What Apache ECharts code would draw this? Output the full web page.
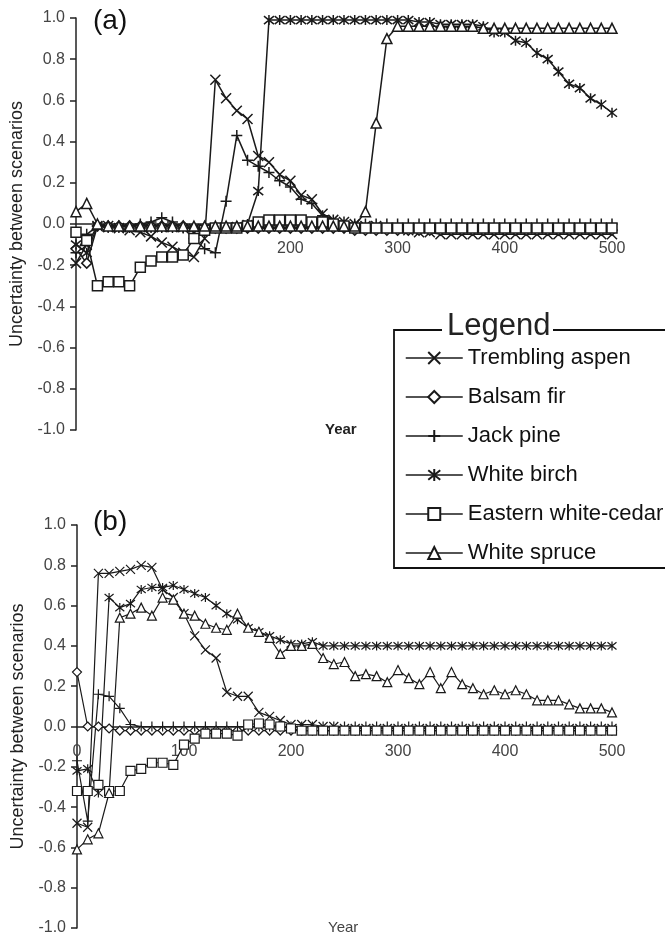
<!DOCTYPE html>
<html>
<head>
<meta charset="utf-8">
<script src="https://cdn.jsdelivr.net/npm/echarts@6/dist/echarts.min.js"></script>
<style>
  html, body { margin: 0; padding: 0; background: #fff; }
  #chart { width: 665px; height: 940px; }
</style>
</head>
<body>
<div id="chart"></div>
<script>
// years simulated (one point every 10 years)
const years = [0, 10, 20, 30, 40, 50, 60, 70, 80, 90,
  100, 110, 120, 130, 140, 150, 160, 170, 180, 190,
  200, 210, 220, 230, 240, 250, 260, 270, 280, 290,
  300, 310, 320, 330, 340, 350, 360, 370, 380, 390,
  400, 410, 420, 430, 440, 450, 460, 470, 480, 490, 500];

const xTicks = [0, 100, 200, 300, 400, 500];
const xTickLabelsA = ['', '', '200', '300', '400', '500'];
const xTickLabelsB = ['0', '100', '200', '300', '400', '500'];

// panel (a)
const aspenA = [-0.19, -0.10, -0.01, -0.01, -0.02, -0.03, -0.04, -0.06, -0.09, -0.11,
  -0.14, -0.16, -0.07, 0.70, 0.61, 0.55, 0.51, 0.33, 0.30, 0.24,
  0.21, 0.14, 0.12, 0.05, 0.02, 0.01, 0.00, -0.01, -0.01, -0.02,
  -0.02, -0.03, -0.04, -0.04, -0.05, -0.05, -0.05, -0.05, -0.05, -0.05,
  -0.05, -0.05, -0.05, -0.05, -0.05, -0.05, -0.05, -0.05, -0.05, -0.05, -0.05];
const firA = [-0.12, -0.19, -0.01, -0.01, -0.01, -0.01, -0.01, -0.01, -0.01, -0.01,
  -0.01, -0.02, -0.03, -0.02, -0.02, -0.02, -0.02, -0.02, -0.02, -0.02,
  -0.02, -0.02, -0.02, -0.02, -0.02, -0.02, -0.03, -0.03, -0.03, -0.03,
  -0.03, -0.03, -0.03, -0.03, -0.03, -0.03, -0.03, -0.03, -0.03, -0.03,
  -0.03, -0.03, -0.03, -0.03, -0.03, -0.03, -0.03, -0.03, -0.03, -0.03, -0.03];
const pineA = [-0.14, -0.05, -0.01, -0.01, -0.01, -0.01, 0.00, 0.01, 0.03, 0.01,
  -0.02, -0.07, -0.12, -0.14, 0.11, 0.43, 0.31, 0.28, 0.25, 0.21,
  0.18, 0.12, 0.10, 0.04, 0.02, 0.01, 0.00, 0.00, 0.00, 0.00,
  0.00, 0.00, 0.00, 0.00, 0.00, 0.00, 0.00, 0.00, 0.00, 0.00,
  0.00, 0.00, 0.00, 0.00, 0.00, 0.00, 0.00, 0.00, 0.00, 0.00, 0.00];
const birchA = [-0.10, -0.14, -0.01, -0.02, -0.02, -0.02, -0.02, -0.02, -0.02, -0.02,
  -0.02, -0.02, -0.02, -0.02, -0.02, -0.01, 0.00, 0.16, 0.99, 0.99,
  0.99, 0.99, 0.99, 0.99, 0.99, 0.99, 0.99, 0.99, 0.99, 0.99,
  0.99, 0.99, 0.98, 0.98, 0.97, 0.97, 0.97, 0.97, 0.96, 0.93,
  0.93, 0.89, 0.88, 0.83, 0.80, 0.74, 0.68, 0.66, 0.61, 0.58, 0.54];
const cedarA = [-0.04, -0.08, -0.30, -0.28, -0.28, -0.30, -0.21, -0.18, -0.16, -0.16,
  -0.15, -0.07, -0.03, -0.02, -0.02, -0.02, -0.01, 0.01, 0.02, 0.02,
  0.02, 0.02, 0.01, 0.01, 0.00, -0.01, -0.02, -0.02, -0.02, -0.02,
  -0.02, -0.02, -0.02, -0.02, -0.02, -0.02, -0.02, -0.02, -0.02, -0.02,
  -0.02, -0.02, -0.02, -0.02, -0.02, -0.02, -0.02, -0.02, -0.02, -0.02, -0.02];
const spruceA = [0.06, 0.10, 0.00, -0.01, -0.01, -0.01, -0.01, -0.01, -0.01, -0.01,
  -0.01, -0.01, -0.01, -0.01, -0.01, -0.01, -0.01, -0.01, -0.01, -0.01,
  -0.01, -0.01, -0.01, -0.01, -0.01, -0.01, -0.01, 0.06, 0.49, 0.90,
  0.96, 0.96, 0.96, 0.96, 0.96, 0.96, 0.96, 0.96, 0.95, 0.95,
  0.95, 0.95, 0.95, 0.95, 0.95, 0.95, 0.95, 0.95, 0.95, 0.95, 0.95];

// panel (b)
const aspenB = [-0.48, -0.50, 0.76, 0.76, 0.77, 0.78, 0.80, 0.79, 0.68, 0.64,
  0.56, 0.45, 0.38, 0.34, 0.17, 0.15, 0.15, 0.07, 0.05, 0.03,
  0.01, 0.01, 0.01, 0.00, 0.00, -0.01, -0.01, -0.01, -0.01, -0.01,
  -0.01, -0.01, -0.01, -0.01, -0.01, -0.01, -0.01, -0.01, -0.01, -0.01,
  -0.01, -0.01, -0.01, -0.01, -0.01, -0.01, -0.01, -0.01, -0.01, -0.01, -0.01];
const firB = [0.27, 0.00, 0.00, -0.01, -0.02, -0.02, -0.02, -0.02, -0.02, -0.02,
  -0.02, -0.02, -0.02, -0.02, -0.02, -0.02, -0.02, -0.02, -0.02, -0.02,
  -0.02, -0.02, -0.02, -0.02, -0.02, -0.02, -0.02, -0.02, -0.02, -0.02,
  -0.02, -0.02, -0.02, -0.02, -0.02, -0.02, -0.02, -0.02, -0.02, -0.02,
  -0.02, -0.02, -0.02, -0.02, -0.02, -0.02, -0.02, -0.02, -0.02, -0.02, -0.02];
const pineB = [-0.17, -0.47, 0.16, 0.15, 0.09, 0.01, 0.00, 0.00, 0.00, 0.00,
  0.00, 0.00, 0.00, 0.00, 0.00, 0.00, 0.00, 0.00, 0.00, 0.00,
  0.00, 0.00, 0.00, 0.00, 0.00, 0.00, 0.00, 0.00, 0.00, 0.00,
  0.00, 0.00, 0.00, 0.00, 0.00, 0.00, 0.00, 0.00, 0.00, 0.00,
  0.00, 0.00, 0.00, 0.00, 0.00, 0.00, 0.00, 0.00, 0.00, 0.00, 0.00];
const birchB = [-0.22, -0.21, -0.33, 0.64, 0.59, 0.61, 0.68, 0.69, 0.69, 0.70,
  0.68, 0.66, 0.64, 0.60, 0.56, 0.53, 0.49, 0.47, 0.45, 0.43,
  0.41, 0.41, 0.42, 0.40, 0.40, 0.40, 0.40, 0.40, 0.40, 0.40,
  0.40, 0.40, 0.40, 0.40, 0.40, 0.40, 0.40, 0.40, 0.40, 0.40,
  0.40, 0.40, 0.40, 0.40, 0.40, 0.40, 0.40, 0.40, 0.40, 0.40, 0.40];
const cedarB = [-0.32, -0.32, -0.29, -0.32, -0.32, -0.22, -0.21, -0.18, -0.18, -0.19,
  -0.09, -0.06, -0.035, -0.035, -0.035, -0.045, 0.01, 0.015, 0.01, 0.00,
  -0.01, -0.02, -0.02, -0.02, -0.02, -0.02, -0.02, -0.02, -0.02, -0.02,
  -0.02, -0.02, -0.02, -0.02, -0.02, -0.02, -0.02, -0.02, -0.02, -0.02,
  -0.02, -0.02, -0.02, -0.02, -0.02, -0.02, -0.02, -0.02, -0.02, -0.02, -0.02];
const spruceB = [-0.61, -0.56, -0.53, -0.33, 0.54, 0.56, 0.59, 0.55, 0.64, 0.63,
  0.56, 0.55, 0.51, 0.49, 0.48, 0.56, 0.49, 0.47, 0.44, 0.36,
  0.40, 0.40, 0.41, 0.34, 0.31, 0.32, 0.25, 0.26, 0.25, 0.22,
  0.28, 0.24, 0.21, 0.27, 0.19, 0.27, 0.21, 0.19, 0.16, 0.18,
  0.16, 0.18, 0.16, 0.13, 0.13, 0.13, 0.11, 0.09, 0.09, 0.09, 0.07];

const INK = '#1a1a1a';
const FONT = 'Liberation Sans';

// marker shapes
const CROSS = 'path://M0,0L10,10M10,0L0,10';
const PLUS = 'path://M5,0L5,10M0,5L10,5';
const STAR = 'path://M1,1L9,9M9,1L1,9M5,0L5,10';

const species = [
  { name: 'Trembling aspen', symbol: CROSS, size: 10, a: aspenA, b: aspenB },
  { name: 'Balsam fir', symbol: 'diamond', size: 10, a: firA, b: firB },
  { name: 'Jack pine', symbol: PLUS, size: 11, a: pineA, b: pineB },
  { name: 'White birch', symbol: STAR, size: 10, a: birchA, b: birchB },
  { name: 'Eastern white-cedar', symbol: 'rect', size: 10, a: cedarA, b: cedarB },
  { name: 'White spruce', symbol: 'triangle', size: 10, a: spruceA, b: spruceB }
];

function pairs(vals) {
  return years.map((y, i) => [y, vals[i]]);
}

const series = [];
species.forEach(sp => {
  [['a', 0, 1.5], ['b', 1, 1.2]].forEach(([key, idx, w]) => {
    series.push({
      name: sp.name,
      type: 'line',
      xAxisIndex: idx,
      yAxisIndex: idx,
      data: pairs(sp[key]),
      symbol: sp.symbol,
      symbolSize: idx === 0 ? sp.size : sp.size - 1,
      clip: false,
      color: INK,
      lineStyle: { color: INK, width: w },
      itemStyle: { color: '#fff', borderColor: INK, borderWidth: idx === 0 ? 1.5 : 1.2 },
      emphasis: { disabled: true }
    });
  });
});

function yAxis(gridIndex) {
  return {
    gridIndex: gridIndex,
    type: 'value',
    min: -1, max: 1, interval: 0.2,
    axisLine: { show: true, onZero: false, lineStyle: { color: '#222', width: 1.5 } },
    axisTick: { show: true, length: 6, lineStyle: { color: '#222', width: 1.5 } },
    splitLine: { show: false },
    axisLabel: {
      formatter: v => (Math.abs(v) < 1e-9 ? '0.0' : v.toFixed(1)),
      fontSize: 16, color: '#444', margin: 11, fontFamily: FONT
    },
    name: 'Uncertainty between scenarios',
    nameLocation: 'middle',
    nameGap: 50,
    nameTextStyle: { fontSize: 18, color: '#222', fontFamily: FONT }
  };
}

// x axis drawn across the zero line of its panel (offset up from the grid bottom)
function xAxis(gridIndex, labels, offset) {
  return {
    gridIndex: gridIndex,
    type: 'value',
    position: 'bottom',
    offset: offset,
    min: 0, max: 500, interval: 100,
    axisLine: { onZero: false, lineStyle: { color: '#222', width: 1.5 } },
    axisTick: { show: false },
    splitLine: { show: false },
    axisLabel: {
      formatter: v => labels[xTicks.indexOf(v)] || '',
      fontSize: 16, color: '#444', margin: 17, fontFamily: FONT
    }
  };
}

const chart = echarts.init(document.getElementById('chart'));
chart.setOption({
  animation: false,
  backgroundColor: '#fff',
  textStyle: { fontFamily: FONT },
  grid: [
    { left: 76, top: 18, width: 536, height: 412, outerBoundsMode: 'none' },
    { left: 77, top: 525, width: 535, height: 403, outerBoundsMode: 'none' }
  ],
  xAxis: [xAxis(0, xTickLabelsA, -206), xAxis(1, xTickLabelsB, -201.5)],
  yAxis: [yAxis(0), yAxis(1)],
  legend: {
    orient: 'vertical',
    left: 400, top: 342,
    itemWidth: 57, itemHeight: 15, itemGap: 17,
    selectedMode: false,
    data: species.map(s => s.name),
    textStyle: { fontSize: 22, color: '#111', fontFamily: FONT },
    lineStyle: { color: INK, width: 1.5 }
  },
  graphic: [
    { type: 'text', x: 93, y: 21, style: { text: '(a)', fontSize: 28, fill: '#111', fontFamily: FONT, verticalAlign: 'middle' } },
    { type: 'text', x: 93, y: 522, style: { text: '(b)', fontSize: 28, fill: '#111', fontFamily: FONT, verticalAlign: 'middle' } },
    { type: 'text', x: 325, y: 430, style: { text: 'Year', fontSize: 15, fontWeight: 'bold', fill: '#222', fontFamily: FONT, verticalAlign: 'middle' } },
    { type: 'text', x: 328, y: 928, style: { text: 'Year', fontSize: 15, fill: '#444', fontFamily: FONT, verticalAlign: 'middle' } },
    // legend frame
    { type: 'polyline', shape: { points: [[442, 330], [394, 330], [394, 568], [670, 568]] }, style: { stroke: '#111', lineWidth: 1.8, fill: null } },
    { type: 'line', shape: { x1: 553, y1: 330, x2: 670, y2: 330 }, style: { stroke: '#111', lineWidth: 1.8 } },
    { type: 'text', x: 447, y: 326, style: { text: 'Legend', fontSize: 31, fill: '#222', fontFamily: FONT, verticalAlign: 'middle' } }
  ],
  series: series
});
</script>
</body>
</html>
